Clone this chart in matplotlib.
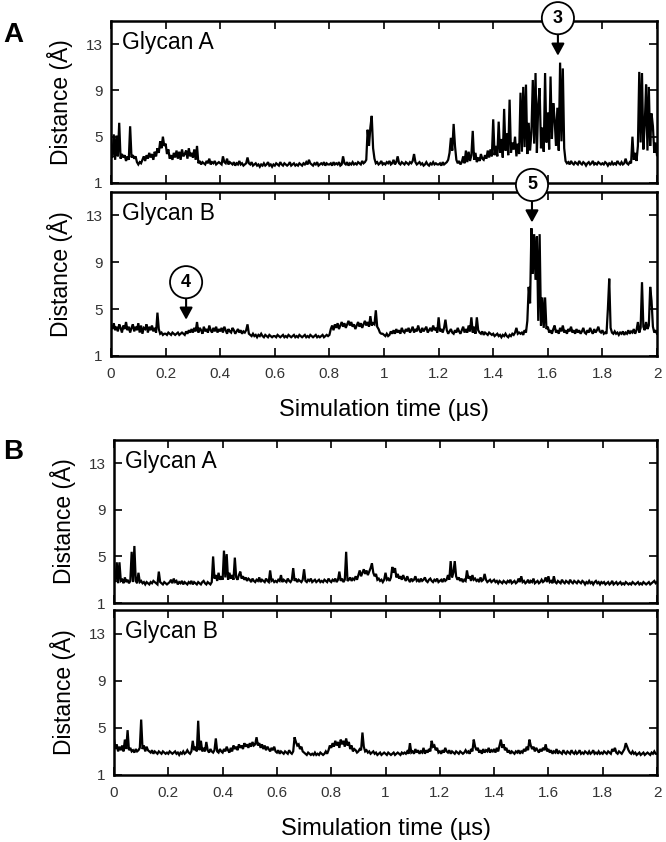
import numpy as np
import matplotlib
matplotlib.use("Agg")
import matplotlib.pyplot as plt
from matplotlib.ticker import FormatStrFormatter

plt.rcParams['font.family'] = ['Liberation Sans', 'DejaVu Sans']

# sampling of the traces (µs)
t_step = 0.005

# panel A, glycan A (distance in Å, one value per 5 ns)
distA_glyA = [
    3.6, 3.2, 5.2, 3.0, 5.1, 3.3, 6.2, 3.1, 3.5, 3.2, 3.4, 2.9, 3.3, 3.0, 5.9, 3.2, 3.4, 3.1, 3.3, 2.8,
    2.6, 2.8, 2.7, 3.0, 3.3, 2.9, 3.4, 3.1, 3.6, 3.2, 3.5, 3.0, 3.7, 3.3, 4.0, 3.6, 4.6, 4.0, 5.0, 4.2,
    4.4, 3.5, 3.9, 3.1, 3.4, 3.0, 3.6, 3.2, 3.8, 3.1, 3.7, 3.0, 3.9, 3.3, 3.5, 3.8, 3.1, 4.0, 3.3, 3.6,
    3.2, 3.9, 3.0, 4.2, 2.7, 2.9, 2.6, 2.8, 2.7, 2.6, 2.9, 2.7, 3.1, 2.6, 2.8, 2.7, 2.9, 2.6, 2.7, 2.8,
    2.7, 2.6, 3.3, 2.8, 2.7, 3.1, 2.6, 2.8, 2.7, 2.6, 2.8, 2.5, 2.7, 2.6, 2.9, 2.6, 2.7, 2.5, 2.6, 2.7,
    3.2, 2.7, 2.6, 2.8, 2.5, 2.6, 2.7, 2.5, 2.6, 2.4, 2.6, 2.5, 2.7, 2.5, 2.6, 2.8, 2.5, 2.6, 2.4, 2.6,
    2.5, 2.7, 2.6, 2.5, 2.8, 2.6, 2.5, 2.7, 2.6, 2.5, 2.6, 2.8, 2.5, 2.6, 2.7, 2.5, 2.6, 2.5, 2.7, 2.6,
    2.5, 2.7, 2.6, 2.8, 2.6, 3.0, 2.7, 2.6, 2.5, 2.7, 2.6, 2.8, 2.5, 2.6, 2.7, 2.6, 2.8, 2.5, 2.7, 2.6,
    2.6, 2.7, 2.5, 2.8, 2.6, 2.7, 2.6, 2.8, 2.5, 2.6, 3.3, 2.7, 2.6, 2.8, 2.5, 2.7, 2.6, 2.8, 2.6, 2.7,
    2.6, 2.8, 2.7, 2.6, 2.9, 2.7, 2.8, 3.0, 5.6, 4.2, 5.8, 6.8, 4.0, 3.1, 2.7, 2.8, 2.6, 2.7, 2.9, 2.6,
    2.7, 2.6, 2.8, 2.7, 2.9, 2.6, 2.7, 3.0, 2.6, 2.8, 3.3, 2.7, 2.6, 2.8, 2.7, 2.6, 2.8, 2.7, 2.6, 2.8,
    2.7, 2.9, 3.5, 2.8, 2.6, 2.7, 2.8, 2.6, 2.7, 2.5, 2.6, 2.8, 2.6, 2.5, 2.7, 2.6, 2.8, 2.6, 2.7, 2.6,
    2.6, 2.7, 2.5, 2.8, 2.6, 2.7, 2.8, 3.0, 3.6, 4.9, 3.8, 6.1, 4.2, 3.0, 2.7, 2.9, 2.6, 2.8, 3.3, 2.7,
    3.8, 2.8, 3.7, 2.9, 3.4, 5.5, 3.0, 3.6, 2.8, 3.2, 2.9, 3.5, 3.1, 3.0, 3.4, 3.1, 3.8, 3.2, 3.9, 3.3,
    6.5, 3.4, 4.2, 3.3, 6.3, 3.6, 4.8, 3.2, 7.4, 3.8, 5.3, 3.4, 8.2, 3.6, 4.5, 3.9, 5.0, 3.3, 4.4, 3.5,
    8.8, 3.7, 9.3, 4.1, 9.5, 3.5, 6.2, 3.8, 5.4, 9.9, 4.4, 10.5, 3.6, 7.8, 9.2, 4.0, 5.8, 3.7, 10.5, 4.5,
    7.1, 3.9, 10.2, 4.8, 7.9, 6.5, 4.2, 7.5, 3.8, 11.4, 4.6, 10.9, 4.0, 2.9, 2.7, 2.8, 2.6, 2.9, 2.7, 2.6,
    2.8, 2.7, 2.6, 2.9, 2.7, 2.6, 2.8, 2.7, 2.5, 2.7, 2.8, 2.6, 2.7, 2.9, 2.6, 2.7, 2.6, 2.8, 2.7, 2.6,
    2.7, 2.6, 2.8, 2.7, 2.5, 2.7, 2.6, 2.8, 2.6, 2.7, 2.6, 2.9, 2.7, 2.6, 2.8, 2.6, 2.7, 3.1, 2.7, 2.6,
    2.8, 2.7, 5.0, 3.0, 3.6, 2.9, 4.2, 10.6, 4.5, 10.5, 3.9, 6.0, 9.5, 3.8, 9.3, 4.2, 7.0, 5.9, 3.6, 4.5,
    3.4,
]

# panel A, glycan B
distA_glyB = [
    3.6, 3.3, 3.8, 3.2, 3.5, 3.1, 3.7, 3.4, 3.0, 3.6, 3.3, 3.9, 3.2, 3.5, 3.0, 3.4, 3.7, 3.1, 3.5, 3.2,
    3.8, 3.0, 3.6, 2.9, 3.4, 3.3, 3.7, 3.0, 3.5, 3.2, 3.6, 3.1, 3.4, 3.0, 4.7, 3.3, 2.9, 3.0, 2.8, 2.9,
    2.9, 2.8, 3.0, 2.9, 2.8, 3.0, 2.9, 2.8, 2.9, 3.0, 2.8, 2.9, 3.0, 2.9, 2.8, 3.1, 2.9, 3.2, 3.0, 3.3,
    3.0, 3.4, 3.1, 3.9, 3.0, 3.4, 3.2, 2.9, 3.5, 3.1, 3.3, 3.0, 3.6, 3.2, 3.0, 3.4, 3.1, 3.5, 3.0, 3.3,
    3.1, 3.4, 3.0, 3.5, 3.2, 2.9, 3.3, 3.1, 3.0, 3.4, 3.2, 2.9, 3.1, 3.3, 3.0, 3.2, 2.9, 3.1, 3.0, 3.2,
    3.7, 2.9, 2.8, 2.7, 2.9, 2.7, 2.8, 2.6, 2.8, 2.7, 2.9, 2.7, 2.6, 2.8, 2.7, 2.6, 2.8, 2.7, 2.6, 2.7,
    2.7, 2.6, 2.8, 2.7, 2.6, 2.7, 2.8, 2.6, 2.7, 2.6, 2.8, 2.7, 2.6, 2.7, 2.8, 2.6, 2.7, 2.6, 2.8, 2.7,
    2.6, 2.7, 2.8, 2.6, 2.7, 2.6, 2.8, 2.7, 2.6, 2.7, 2.8, 2.6, 2.7, 2.6, 2.7, 2.8, 2.6, 2.7, 2.8, 2.7,
    2.8, 3.3, 3.6, 3.2, 3.7, 3.4, 3.8, 3.3, 3.6, 3.9, 3.5, 3.8, 3.4, 3.7, 4.0, 3.6, 3.9, 3.5, 3.7, 3.3,
    3.6, 3.9, 3.5, 3.8, 3.4, 3.7, 4.0, 3.6, 3.9, 3.5, 4.4, 3.6, 3.8, 3.7, 4.9, 3.5, 3.3, 3.0, 2.9, 2.9,
    2.8, 2.7, 2.9, 2.7, 2.8, 3.1, 2.9, 3.2, 2.9, 3.3, 3.0, 3.2, 2.9, 3.4, 3.1, 3.0, 3.3, 3.1, 3.4, 3.0,
    3.2, 3.5, 3.0, 3.3, 3.1, 3.6, 3.2, 3.0, 3.4, 3.1, 3.3, 3.5, 3.0, 3.2, 3.4, 3.1, 3.6, 3.2, 3.4, 3.0,
    4.3, 3.1, 3.3, 3.0, 3.4, 4.1, 3.2, 2.9, 3.1, 3.3, 3.0, 2.9, 3.2, 3.0, 3.4, 3.1, 2.9, 3.2, 3.5, 3.0,
    3.3, 3.0, 3.6, 3.1, 4.3, 3.0, 3.5, 2.9, 4.3, 3.2, 3.0, 2.9, 3.1, 2.8, 3.0, 2.9, 2.8, 3.0, 2.9, 2.8,
    2.9, 2.7, 2.8, 2.9, 2.7, 2.8, 2.6, 2.8, 2.7, 2.9, 2.7, 2.6, 2.8, 2.7, 2.9, 2.8, 3.0, 3.4, 2.9, 3.0,
    2.9, 3.0, 2.8, 3.2, 3.0, 4.0, 6.9, 5.5, 11.9, 8.0, 11.4, 7.5, 11.2, 4.0, 11.4, 3.6, 6.0, 3.4, 6.0, 3.3,
    3.5, 3.0, 3.2, 2.9, 3.3, 3.6, 3.0, 3.2, 2.9, 3.4, 3.1, 3.6, 3.0, 3.2, 2.9, 3.3, 3.1, 3.5, 3.0, 3.2,
    2.9, 3.3, 3.0, 3.2, 2.9, 3.1, 3.4, 3.0, 2.9, 3.2, 3.0, 3.4, 3.1, 2.9, 3.3, 3.0, 3.2, 3.5, 3.1, 3.0,
    3.2, 2.9, 3.0, 2.9, 5.0, 7.6, 3.4, 3.0, 2.9, 3.1, 2.9, 3.0, 2.8, 3.0, 2.9, 3.1, 2.8, 3.0, 2.9, 3.2,
    2.9, 3.1, 3.0, 3.3, 2.9, 3.2, 3.9, 3.0, 3.4, 7.3, 3.5, 3.2, 3.9, 3.3, 3.6, 6.9, 5.7, 3.5, 3.0, 3.2,
    2.9,
]

# panel B, glycan A
distB_glyA = [
    3.2, 2.8, 4.5, 2.7, 4.5, 2.9, 3.0, 2.7, 3.2, 2.8, 3.0, 2.7, 2.9, 5.4, 2.8, 5.9, 2.9, 2.7, 3.6, 2.8,
    2.9, 2.7, 2.8, 2.6, 2.8, 2.7, 2.6, 2.8, 2.7, 2.9, 2.8, 2.7, 2.6, 3.7, 2.8, 2.7, 2.6, 2.8, 2.7, 2.6,
    2.7, 2.8, 3.0, 2.7, 3.1, 2.8, 2.9, 2.6, 2.8, 2.7, 2.9, 2.6, 2.8, 2.7, 2.6, 2.8, 2.7, 2.9, 2.6, 2.8,
    2.7, 2.6, 2.8, 2.7, 2.6, 2.8, 2.9, 2.7, 2.6, 2.8, 2.7, 2.6, 2.8, 5.0, 3.1, 3.4, 2.9, 3.6, 3.0, 3.3,
    3.0, 5.5, 3.2, 5.2, 3.0, 3.6, 3.1, 3.4, 3.0, 4.9, 3.2, 3.0, 3.4, 3.7, 3.1, 3.3, 3.0, 3.2, 2.9, 3.1,
    3.0, 2.8, 3.1, 2.9, 2.8, 3.0, 2.9, 3.2, 2.8, 3.0, 2.9, 2.8, 3.1, 2.9, 2.8, 3.8, 2.9, 3.0, 2.8, 2.9,
    2.8, 3.0, 2.9, 3.4, 2.8, 3.0, 2.9, 2.8, 3.1, 2.9, 2.8, 3.0, 4.0, 2.9, 3.1, 2.8, 3.0, 2.9, 2.8, 3.0,
    3.9, 2.9, 2.8, 3.0, 2.9, 3.1, 2.8, 2.9, 3.0, 2.8, 2.9, 3.0, 2.8, 2.9, 2.8, 3.0, 2.9, 2.8, 3.1, 2.9,
    2.8, 3.0, 2.9, 3.1, 2.8, 3.0, 3.7, 2.9, 3.1, 2.8, 3.0, 5.4, 2.9, 3.0, 3.2, 2.9, 3.1, 3.0, 3.3, 3.0,
    3.4, 3.8, 3.3, 3.6, 3.9, 3.5, 3.8, 3.4, 3.7, 4.0, 4.4, 3.6, 3.3, 3.5, 3.0, 3.1, 2.9, 3.0, 2.8, 3.0,
    3.6, 3.0, 3.1, 2.9, 3.2, 4.1, 3.6, 4.0, 3.2, 3.5, 3.1, 3.3, 3.0, 3.4, 3.1, 2.9, 3.3, 3.0, 2.8, 3.1,
    2.9, 3.0, 3.3, 2.9, 3.0, 2.8, 3.1, 2.9, 3.0, 3.2, 2.9, 2.8, 3.0, 3.1, 2.9, 2.8, 3.0, 2.9, 3.1, 2.8,
    2.9, 3.0, 2.8, 3.1, 2.9, 3.0, 3.4, 3.0, 4.6, 3.2, 3.6, 4.6, 3.3, 3.0, 3.2, 2.9, 3.1, 2.8, 3.0, 2.9,
    3.8, 3.1, 3.3, 2.9, 3.4, 3.0, 3.1, 2.9, 3.0, 2.8, 3.2, 2.9, 3.0, 3.5, 3.0, 2.8, 2.9, 3.0, 2.8, 2.9,
    3.0, 2.8, 2.9, 2.7, 2.9, 2.8, 2.7, 2.9, 2.8, 2.7, 2.9, 2.8, 3.0, 2.7, 2.8, 2.9, 2.7, 2.8, 3.1, 2.8,
    3.3, 2.8, 2.9, 2.7, 2.8, 3.0, 2.7, 2.9, 2.8, 3.1, 2.7, 2.8, 2.9, 2.7, 2.8, 3.0, 2.8, 2.9, 3.2, 2.8,
    3.3, 2.8, 2.9, 2.7, 3.3, 2.8, 2.7, 2.9, 2.8, 2.7, 3.0, 2.8, 2.7, 2.9, 2.8, 2.7, 3.0, 2.8, 2.7, 2.9,
    2.8, 2.7, 2.9, 2.8, 2.7, 2.9, 2.8, 2.6, 2.8, 2.7, 2.9, 2.7, 2.8, 2.6, 2.8, 2.9, 2.7, 2.8, 2.6, 2.8,
    2.7, 2.8, 2.6, 2.7, 2.8, 2.6, 2.7, 2.9, 2.6, 2.7, 2.8, 2.6, 2.7, 2.8, 2.6, 2.7, 2.6, 2.8, 2.7, 2.6,
    2.7, 2.6, 2.8, 2.7, 2.6, 2.7, 2.8, 2.6, 2.7, 2.6, 2.8, 2.7, 2.6, 2.7, 2.8, 2.6, 2.7, 2.8, 2.9, 2.7,
    2.8,
]

# panel B, glycan B
distB_glyB = [
    4.0, 3.2, 3.6, 3.0, 3.4, 3.1, 3.5, 3.0, 4.0, 3.2, 4.8, 3.1, 3.3, 3.0, 3.1, 2.9, 3.2, 3.0, 3.1, 3.3,
    5.7, 3.2, 3.5, 3.0, 3.4, 3.1, 3.0, 2.9, 3.1, 2.8, 3.0, 2.9, 2.8, 3.0, 2.9, 2.8, 3.0, 2.9, 2.8, 2.9,
    2.8, 3.0, 2.9, 2.8, 2.9, 3.0, 2.8, 2.9, 2.7, 2.9, 2.8, 3.0, 2.8, 2.9, 3.1, 2.9, 2.8, 3.0, 3.9, 3.1,
    3.4, 3.0, 5.6, 3.1, 3.9, 3.0, 3.3, 3.0, 3.8, 3.1, 2.9, 3.2, 3.0, 2.9, 3.1, 4.1, 3.0, 2.9, 3.2, 3.0,
    2.9, 3.2, 3.0, 3.4, 3.1, 2.9, 3.3, 3.0, 3.5, 3.2, 3.4, 3.1, 3.6, 3.3, 3.5, 3.2, 3.7, 3.4, 3.6, 3.3,
    3.7, 3.4, 3.8, 3.5, 3.6, 4.2, 3.5, 3.7, 3.3, 3.6, 3.2, 3.5, 3.1, 3.4, 3.2, 3.0, 3.3, 3.1, 3.4, 3.0,
    2.9, 3.1, 2.8, 3.0, 2.9, 2.8, 3.0, 2.9, 2.8, 3.1, 2.9, 2.8, 3.0, 4.2, 3.8, 3.5, 3.6, 3.2, 3.4, 3.0,
    2.9, 2.8, 2.7, 2.9, 2.8, 2.7, 2.8, 2.7, 2.9, 2.7, 2.8, 2.7, 2.9, 2.8, 2.7, 2.8, 3.0, 2.8, 3.1, 3.5,
    3.3, 3.7, 3.4, 3.9, 3.5, 3.8, 3.3, 4.0, 3.6, 3.9, 3.4, 4.1, 3.5, 3.8, 3.2, 3.5, 3.0, 3.2, 3.1, 2.9,
    3.0, 3.2, 3.1, 4.6, 3.4, 3.0, 3.1, 2.9, 3.0, 2.8, 2.9, 3.0, 2.8, 2.9, 2.7, 2.8, 2.9, 2.7, 2.8, 2.9,
    2.8, 2.7, 2.9, 2.8, 2.7, 2.8, 2.9, 2.7, 2.8, 2.9, 2.8, 2.7, 2.9, 2.8, 2.9, 2.8, 3.0, 2.8, 3.7, 2.9,
    3.0, 2.8, 3.2, 2.9, 3.1, 2.8, 3.0, 2.9, 3.3, 2.8, 3.1, 2.9, 3.2, 3.0, 3.9, 3.4, 3.5, 3.1, 3.3, 2.9,
    3.0, 2.8, 3.1, 2.9, 3.3, 3.0, 2.9, 3.1, 2.8, 3.0, 2.9, 2.8, 3.0, 2.9, 2.8, 3.0, 2.9, 2.8, 2.9, 3.1,
    2.9, 3.0, 2.8, 3.2, 3.0, 4.0, 3.4, 3.1, 3.3, 2.9, 3.1, 2.8, 3.2, 2.9, 3.1, 3.0, 3.3, 2.9, 3.1, 3.0,
    3.2, 2.9, 3.3, 3.0, 3.5, 4.0, 3.3, 3.6, 3.1, 3.3, 2.9, 3.1, 2.8, 3.0, 2.9, 2.8, 3.0, 2.9, 3.1, 2.8,
    3.0, 2.9, 3.2, 3.0, 3.4, 3.1, 4.0, 3.5, 3.2, 3.4, 3.0, 3.3, 3.1, 2.9, 3.2, 3.0, 3.3, 3.1, 3.6, 3.0,
    3.2, 2.9, 3.1, 2.8, 3.0, 2.9, 3.2, 2.8, 3.0, 2.9, 2.8, 3.1, 2.9, 2.8, 3.0, 2.9, 2.8, 3.1, 2.9, 2.8,
    3.0, 2.8, 2.9, 3.1, 2.8, 2.9, 2.8, 3.0, 2.9, 2.8, 3.0, 2.8, 2.9, 3.1, 2.8, 2.9, 2.8, 3.0, 2.8, 2.9,
    2.8, 3.0, 2.9, 2.8, 3.0, 2.9, 2.8, 3.2, 3.0, 3.3, 2.9, 2.8, 3.0, 2.9, 2.8, 3.0, 3.2, 3.7, 3.4, 3.1,
    2.9, 2.8, 3.0, 2.8, 2.9, 2.7, 2.8, 2.9, 2.7, 2.8, 2.9, 2.7, 2.8, 2.9, 2.8, 2.7, 2.9, 2.8, 3.0, 2.8,
    2.8,
]

panel_labels = ['A', 'B']
glycan_names = ['Glycan A', 'Glycan B']
yticks = [1, 5, 9, 13]
xticks = [0, 0.2, 0.4, 0.6, 0.8, 1.0, 1.2, 1.4, 1.6, 1.8, 2.0]

# circled markers: (panel, row, label, time, distance at arrow tip)
markers = [
    (0, 0, '3', 1.637, 12.0),
    (0, 1, '4', 0.275, 4.1),
    (0, 1, '5', 1.542, 12.4),
]

fig = plt.figure(figsize=(6.66, 8.42), dpi=100)

# axes rectangles in figure fraction [left, bottom, width, height]
rects = [
    [[0.1667, 0.7827, 0.8198, 0.1924], [0.1667, 0.5772, 0.8198, 0.1948]],
    [[0.1712, 0.2838, 0.8153, 0.1936], [0.1712, 0.0796, 0.8153, 0.1960]],
]
series = [[distA_glyA, distA_glyB], [distB_glyA, distB_glyB]]

axes = []
for p in range(2):
    row_axes = []
    for r in range(2):
        ax = fig.add_axes(rects[p][r])
        vals = np.array(series[p][r])
        t = np.arange(len(vals)) * t_step
        ax.plot(t, vals, color='black', lw=1.6, solid_joinstyle='miter')
        ax.set_xlim(0, 2)
        ax.set_ylim(1, 15)
        ax.set_yticks(yticks)
        ax.set_xticks(xticks)
        ax.xaxis.set_major_formatter(FormatStrFormatter('%g'))
        ax.tick_params(direction='in', length=6, width=1.2, top=True, right=True,
                       labelsize=11, labelcolor='#333333', pad=6)
        ax.tick_params(axis='x', pad=8)
        for s in ax.spines.values():
            s.set_linewidth(1.8)
        ax.set_ylabel('Distance (Å)', fontsize=16.5, labelpad=9)
        ax.text(0.02, 0.87, glycan_names[r], transform=ax.transAxes, fontsize=16.5,
                ha='left', va='center')
        if r == 0:
            ax.tick_params(labelbottom=False)
        else:
            ax.set_xlabel('Simulation time (µs)', fontsize=17, labelpad=13)
        row_axes.append(ax)
    axes.append(row_axes)

for p, r, lab, tx, ty in markers:
    axes[p][r].annotate(lab, xy=(tx, ty), xytext=(0, 27), textcoords='offset points',
                        ha='center', va='center', fontsize=13, fontweight='bold',
                        bbox=dict(boxstyle='circle,pad=0.42', fc='white', ec='black', lw=1.3),
                        arrowprops=dict(arrowstyle='-|>,head_length=0.55,head_width=0.3',
                                        color='black', lw=1.5, shrinkA=0, shrinkB=0),
                        annotation_clip=False, zorder=10)

fig.text(0.005, 0.958, panel_labels[0], fontsize=20, fontweight='bold', va='center')
fig.text(0.005, 0.463, panel_labels[1], fontsize=20, fontweight='bold', va='center')

fig.savefig('out.png', dpi=100)
